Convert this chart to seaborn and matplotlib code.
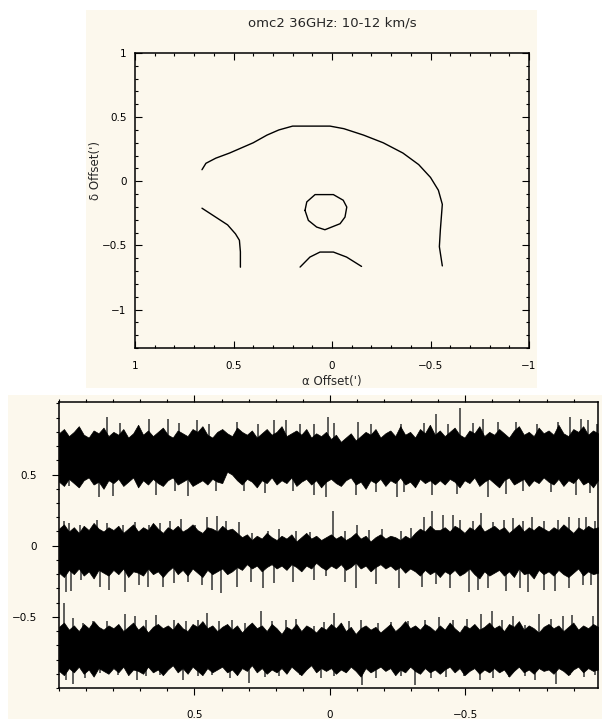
import numpy as np
import matplotlib
matplotlib.use("Agg")
import matplotlib.pyplot as plt
from matplotlib.patches import Rectangle
from matplotlib.ticker import MultipleLocator, FixedLocator
import seaborn as sns

sns.set_style("ticks")
plt.rcParams["font.family"] = ["DejaVu Sans"]

CREAM = "#fcf8ed"
INK = "black"

title = "omc2 36GHz: 10-12 km/s"
xlabel_map = "α Offset(')"
ylabel_map = "δ Offset(')"

# ---- integrated-intensity contour paths (RA, Dec offsets in arcmin) ----
outer_ra = [0.66, 0.64, 0.59, 0.52, 0.46, 0.40, 0.33, 0.27, 0.20, 0.10, 0.01,
            -0.06, -0.16, -0.26, -0.36, -0.44, -0.50, -0.54, -0.56, -0.55,
            -0.545, -0.56]
outer_dec = [0.09, 0.14, 0.18, 0.22, 0.26, 0.30, 0.36, 0.40, 0.43, 0.43, 0.43,
             0.41, 0.36, 0.30, 0.22, 0.13, 0.03, -0.07, -0.18, -0.38,
             -0.51, -0.66]

west_ra = [0.66, 0.60, 0.53, 0.49, 0.47, 0.465, 0.465]
west_dec = [-0.21, -0.27, -0.34, -0.41, -0.46, -0.55, -0.67]

core_ra = [0.137, 0.128, 0.086, -0.007, -0.057, -0.075, -0.066, -0.041,
           0.036, 0.078, 0.120, 0.137]
core_dec = [-0.227, -0.161, -0.104, -0.104, -0.148, -0.201, -0.279, -0.331,
            -0.378, -0.357, -0.305, -0.227]

south_ra = [0.162, 0.112, 0.061, -0.007, -0.074, -0.150]
south_dec = [-0.669, -0.591, -0.552, -0.552, -0.591, -0.664]

# ---- spectra: dense noise envelopes on a regular offset grid ----
channels = np.linspace(1.0, -0.99, 110)

top_hi = [0.79, 0.82, 0.77, 0.80, 0.84, 0.78, 0.76, 0.81, 0.79, 0.83, 0.77,
          0.80, 0.78, 0.82, 0.76, 0.79, 0.85, 0.78, 0.81, 0.77, 0.80, 0.83,
          0.78, 0.76, 0.81, 0.79, 0.77, 0.82, 0.80, 0.84, 0.78, 0.76, 0.80,
          0.82, 0.79, 0.77, 0.83, 0.80, 0.78, 0.81, 0.76, 0.79, 0.82, 0.78,
          0.80, 0.84, 0.77, 0.79, 0.81, 0.78, 0.82, 0.76, 0.79, 0.77, 0.80,
          0.75, 0.78, 0.73, 0.76, 0.79, 0.74, 0.77, 0.80, 0.78, 0.82, 0.76,
          0.79, 0.81, 0.77, 0.84, 0.78, 0.80, 0.76, 0.82, 0.79, 0.85, 0.78,
          0.81, 0.77, 0.80, 0.83, 0.78, 0.76, 0.81, 0.79, 0.84, 0.77, 0.80,
          0.78, 0.82, 0.79, 0.76, 0.81, 0.84, 0.78, 0.80, 0.77, 0.83, 0.79,
          0.81, 0.78, 0.85, 0.79, 0.77, 0.82, 0.80, 0.84, 0.78, 0.81, 0.79]
top_lo = [0.45, 0.42, 0.47, 0.44, 0.41, 0.46, 0.48, 0.43, 0.45, 0.40, 0.46,
          0.44, 0.47, 0.42, 0.45, 0.48, 0.41, 0.46, 0.43, 0.47, 0.44, 0.42,
          0.46, 0.48, 0.43, 0.45, 0.47, 0.42, 0.44, 0.46, 0.43, 0.47, 0.45,
          0.44, 0.52, 0.50, 0.46, 0.43, 0.47, 0.45, 0.41, 0.46, 0.44, 0.48,
          0.43, 0.46, 0.44, 0.48, 0.42, 0.45, 0.47, 0.43, 0.46, 0.41, 0.45,
          0.47, 0.44, 0.42, 0.46, 0.48, 0.43, 0.45, 0.40, 0.46, 0.44, 0.47,
          0.42, 0.46, 0.44, 0.48, 0.43, 0.45, 0.41, 0.47, 0.44, 0.46, 0.43,
          0.46, 0.43, 0.47, 0.45, 0.41, 0.46, 0.44, 0.48, 0.42, 0.45, 0.47,
          0.44, 0.41, 0.46, 0.48, 0.43, 0.45, 0.47, 0.42, 0.46, 0.44, 0.48,
          0.45, 0.43, 0.47, 0.42, 0.46, 0.44, 0.48, 0.43, 0.45, 0.41, 0.46]

mid_hi = [0.12, 0.15, 0.10, 0.13, 0.09, 0.14, 0.11, 0.16, 0.12, 0.10, 0.13,
          0.11, 0.14, 0.09, 0.12, 0.15, 0.10, 0.13, 0.11, 0.16, 0.12, 0.09,
          0.13, 0.11, 0.14, 0.10, 0.12, 0.15, 0.11, 0.09, 0.13, 0.12, 0.10,
          0.14, 0.11, 0.12, 0.09, 0.06, 0.08, 0.04, 0.07, 0.05, 0.09, 0.06,
          0.04, 0.07, 0.05, 0.08, 0.03, 0.06, 0.09, 0.05, 0.07, 0.04, 0.06,
          0.08, 0.05, 0.07, 0.04, 0.06, 0.09, 0.05, 0.07, 0.03, 0.06, 0.08,
          0.05, 0.07, 0.06, 0.04, 0.07, 0.05, 0.09, 0.12, 0.10, 0.14, 0.11,
          0.11, 0.13, 0.10, 0.14, 0.12, 0.09, 0.13, 0.11, 0.15, 0.10, 0.12,
          0.14, 0.11, 0.13, 0.09, 0.12, 0.15, 0.10, 0.13, 0.11, 0.14, 0.12,
          0.10, 0.13, 0.11, 0.15, 0.12, 0.09, 0.13, 0.11, 0.14, 0.12, 0.13]
mid_lo = [-0.19, -0.22, -0.17, -0.20, -0.16, -0.21, -0.18, -0.23, -0.17, -0.19, -0.21,
          -0.17, -0.20, -0.16, -0.22, -0.18, -0.19, -0.21, -0.16, -0.20, -0.18, -0.22,
          -0.18, -0.15, -0.20, -0.17, -0.21, -0.16, -0.19, -0.22, -0.17, -0.20, -0.18,
          -0.16, -0.20, -0.18, -0.15, -0.17, -0.13, -0.16, -0.14, -0.18, -0.15, -0.13,
          -0.16, -0.14, -0.17, -0.13, -0.15, -0.18, -0.14, -0.16, -0.12, -0.15, -0.17,
          -0.14, -0.16, -0.13, -0.17, -0.15, -0.12, -0.16, -0.14, -0.18, -0.15, -0.13,
          -0.16, -0.14, -0.17, -0.15, -0.19, -0.16, -0.18, -0.21, -0.17, -0.20, -0.18,
          -0.22, -0.18, -0.20, -0.17, -0.21, -0.19, -0.16, -0.20, -0.23, -0.18, -0.21,
          -0.19, -0.17, -0.21, -0.18, -0.22, -0.16, -0.20, -0.19, -0.23, -0.17, -0.20,
          -0.18, -0.21, -0.17, -0.20, -0.22, -0.19, -0.16, -0.21, -0.18, -0.20, -0.19]

bot_hi = [-0.57, -0.54, -0.59, -0.56, -0.60, -0.55, -0.58, -0.53, -0.57, -0.59, -0.56,
          -0.58, -0.55, -0.60, -0.57, -0.54, -0.59, -0.56, -0.61, -0.57, -0.55, -0.58,
          -0.56, -0.59, -0.54, -0.58, -0.60, -0.55, -0.57, -0.53, -0.58, -0.56, -0.60,
          -0.57, -0.55, -0.59, -0.56, -0.61, -0.57, -0.54, -0.58, -0.56, -0.60, -0.55,
          -0.58, -0.62, -0.57, -0.59, -0.55, -0.60, -0.56, -0.58, -0.61, -0.57, -0.59,
          -0.55, -0.58, -0.54, -0.60, -0.57, -0.62, -0.58, -0.56, -0.59, -0.57, -0.61,
          -0.58, -0.55, -0.60, -0.57, -0.53, -0.58, -0.56, -0.59, -0.55, -0.57, -0.60,
          -0.56, -0.59, -0.54, -0.58, -0.61, -0.56, -0.58, -0.55, -0.59, -0.57, -0.54,
          -0.58, -0.56, -0.60, -0.55, -0.57, -0.53, -0.59, -0.56, -0.58, -0.61, -0.57,
          -0.55, -0.58, -0.56, -0.60, -0.57, -0.54, -0.59, -0.56, -0.58, -0.55, -0.57]
bot_lo = [-0.88, -0.91, -0.86, -0.89, -0.85, -0.90, -0.87, -0.92, -0.86, -0.88, -0.90,
          -0.86, -0.89, -0.85, -0.91, -0.87, -0.88, -0.90, -0.85, -0.89, -0.87, -0.91,
          -0.87, -0.84, -0.89, -0.86, -0.90, -0.85, -0.88, -0.91, -0.86, -0.89, -0.87,
          -0.85, -0.89, -0.87, -0.91, -0.86, -0.88, -0.84, -0.89, -0.86, -0.90, -0.87,
          -0.89, -0.86, -0.90, -0.85, -0.88, -0.91, -0.87, -0.84, -0.89, -0.86, -0.88,
          -0.86, -0.90, -0.87, -0.89, -0.85, -0.88, -0.92, -0.86, -0.89, -0.87, -0.85,
          -0.88, -0.86, -0.91, -0.87, -0.89, -0.85, -0.88, -0.90, -0.86, -0.89, -0.87,
          -0.90, -0.87, -0.85, -0.89, -0.86, -0.91, -0.88, -0.86, -0.90, -0.87, -0.89,
          -0.86, -0.89, -0.87, -0.92, -0.88, -0.85, -0.89, -0.87, -0.90, -0.86, -0.88,
          -0.87, -0.90, -0.86, -0.88, -0.91, -0.87, -0.85, -0.89, -0.86, -0.88, -0.87]

# ---- spectra: individual noise spikes beyond the envelopes ----
top_up_x = [0.821, 0.776, 0.666, 0.599, 0.557, 0.492, 0.447, 0.344, 0.266, 0.205,
            0.163, 0.112, 0.060, 0.008, -0.017, -0.105, -0.153, -0.262, -0.346,
            -0.391, -0.436, -0.482, -0.527, -0.566, -0.621, -0.688, -0.765,
            -0.843, -0.888, -0.927, -0.952, -0.985]
top_up_y = [0.904, 0.864, 0.894, 0.894, 0.864, 0.880, 0.857, 0.871, 0.857, 0.887,
            0.880, 0.857, 0.852, 0.904, 0.864, 0.871, 0.852, 0.852, 0.864, 0.923,
            0.852, 0.970, 0.864, 0.894, 0.871, 0.871, 0.857, 0.871, 0.904, 0.894,
            0.887, 0.852]
top_dn_x = [0.963, 0.854, 0.802, 0.641, 0.570, 0.525, 0.421, 0.318, 0.241, 0.137,
            0.060, 0.015, -0.095, -0.172, -0.247, -0.275, -0.378, -0.469, -0.585,
            -0.649, -0.714, -0.817, -0.907, -0.959]
top_dn_y = [0.417, 0.340, 0.347, 0.354, 0.382, 0.347, 0.387, 0.387, 0.370, 0.387,
            0.359, 0.340, 0.354, 0.377, 0.340, 0.377, 0.354, 0.363, 0.340, 0.363,
            0.387, 0.377, 0.354, 0.370]

mid_up_x = [0.983, 0.963, 0.924, 0.860, 0.821, 0.763, 0.718, 0.666, 0.628, 0.589,
            0.550, 0.499, 0.454, 0.415, 0.383, 0.337, 0.286, 0.228, 0.189, 0.125,
            0.073, -0.011, -0.056, -0.101, -0.146, -0.191, -0.262, -0.301, -0.346,
            -0.378, -0.417, -0.456, -0.482, -0.527, -0.559, -0.604, -0.643, -0.675,
            -0.714, -0.746, -0.791, -0.843, -0.882, -0.920, -0.946, -0.978]
mid_up_y = [0.176, 0.160, 0.148, 0.183, 0.160, 0.148, 0.167, 0.148, 0.160, 0.176,
            0.190, 0.143, 0.200, 0.207, 0.176, 0.167, 0.089, 0.101, 0.120, 0.106,
            0.096, 0.242, 0.106, 0.143, 0.113, 0.120, 0.101, 0.125, 0.200, 0.242,
            0.214, 0.219, 0.183, 0.172, 0.230, 0.167, 0.183, 0.195, 0.172, 0.200,
            0.176, 0.183, 0.200, 0.195, 0.200, 0.176]
mid_dn_x = [0.976, 0.957, 0.918, 0.847, 0.815, 0.757, 0.705, 0.673, 0.615, 0.576,
            0.525, 0.473, 0.434, 0.402, 0.344, 0.292, 0.247, 0.208, 0.137, 0.060,
            0.015, -0.056, -0.095, -0.172, -0.256, -0.340, -0.391, -0.443, -0.514,
            -0.546, -0.585, -0.649, -0.701, -0.733, -0.791, -0.830, -0.882, -0.933,
            -0.966]
mid_dn_y = [-0.322, -0.317, -0.240, -0.287, -0.310, -0.322, -0.275, -0.287, -0.287,
            -0.263, -0.252, -0.275, -0.310, -0.334, -0.287, -0.256, -0.294, -0.263,
            -0.252, -0.240, -0.216, -0.252, -0.294, -0.270, -0.299, -0.287, -0.270,
            -0.299, -0.327, -0.310, -0.294, -0.317, -0.294, -0.327, -0.310, -0.317,
            -0.299, -0.275, -0.275]

bot_up_x = [0.983, 0.950, 0.912, 0.873, 0.821, 0.757, 0.718, 0.679, 0.641, 0.576,
            0.531, 0.486, 0.454, 0.408, 0.363, 0.312, 0.254, 0.215, 0.163, 0.125,
            0.060, 0.021, -0.017, -0.069, -0.114, -0.178, -0.224, -0.288, -0.353,
            -0.404, -0.456, -0.507, -0.559, -0.598, -0.636, -0.675, -0.720, -0.772,
            -0.817, -0.862, -0.895, -0.972]
bot_up_y = [-0.401, -0.507, -0.542, -0.531, -0.531, -0.479, -0.495, -0.519, -0.484,
            -0.519, -0.531, -0.519, -0.472, -0.531, -0.519, -0.542, -0.460, -0.531,
            -0.519, -0.512, -0.566, -0.535, -0.472, -0.531, -0.519, -0.542, -0.535,
            -0.531, -0.519, -0.502, -0.519, -0.512, -0.479, -0.460, -0.519, -0.495,
            -0.554, -0.479, -0.512, -0.495, -0.484, -0.495]
bot_dn_x = [0.976, 0.950, 0.905, 0.847, 0.783, 0.712, 0.679, 0.628, 0.544, 0.486,
            0.434, 0.370, 0.299, 0.241, 0.189, 0.112, 0.034, -0.017, -0.120, -0.172,
            -0.262, -0.314, -0.372, -0.430, -0.494, -0.553, -0.604, -0.662, -0.720,
            -0.759, -0.836, -0.888, -0.940, -0.978]
bot_dn_y = [-0.942, -0.972, -0.930, -0.895, -0.911, -0.942, -0.918, -0.907, -0.942,
            -0.918, -0.907, -0.930, -0.965, -0.925, -0.918, -0.907, -0.930, -0.918,
            -0.982, -0.930, -0.918, -0.977, -0.930, -0.925, -0.918, -0.942, -0.930,
            -0.925, -0.918, -0.942, -0.972, -0.907, -0.925, -0.907]

spectra = [
    (top_hi, top_lo, top_up_x, top_up_y, top_dn_x, top_dn_y),
    (mid_hi, mid_lo, mid_up_x, mid_up_y, mid_dn_x, mid_dn_y),
    (bot_hi, bot_lo, bot_up_x, bot_up_y, bot_dn_x, bot_dn_y),
]

# ---------------------------------------------------------------------------
fig = plt.figure(figsize=(6.02, 7.19), dpi=100, facecolor="white")

# cream panels behind each plot
for rect in [(86 / 602, 1 - 388 / 719, 451 / 602, 378 / 719),
             (8 / 602, 0.0, 594 / 602, 324 / 719)]:
    fig.patches.append(Rectangle(rect[:2], rect[2], rect[3],
                                 transform=fig.transFigure, facecolor=CREAM,
                                 edgecolor="none", zorder=-10))

FS = 7.5
FS_LABEL = 8.5
FS_TITLE = 9.5

# ---- contour map ----
ax1 = fig.add_axes([135 / 602, 1 - 348 / 719, 394 / 602, 295 / 719])
ax1.set_zorder(1)
ax1.set_facecolor(CREAM)
for rx, dy in [(outer_ra, outer_dec), (west_ra, west_dec),
               (core_ra, core_dec), (south_ra, south_dec)]:
    sns.lineplot(x=rx, y=dy, sort=False, estimator=None, color=INK,
                 linewidth=1.0, ax=ax1)
ax1.set_xlim(1, -1)
ax1.set_ylim(-1.3, 1)
ax1.xaxis.set_major_locator(FixedLocator([1, 0.5, 0, -0.5, -1]))
ax1.yaxis.set_major_locator(FixedLocator([1, 0.5, 0, -0.5, -1]))
ax1.xaxis.set_minor_locator(MultipleLocator(0.1))
ax1.yaxis.set_minor_locator(MultipleLocator(0.1))
ax1.set_xticklabels(["1", "0.5", "0", "\u22120.5", "\u22121"])
ax1.set_yticklabels(["1", "0.5", "0", "\u22120.5", "\u22121"])
ax1.tick_params(which="both", direction="in", top=True, right=True,
                width=0.8, colors=INK, labelsize=FS)
ax1.tick_params(which="major", length=5)
ax1.tick_params(axis="x", which="major", pad=9.5)
ax1.tick_params(axis="y", which="major", pad=6)
ax1.tick_params(which="minor", length=2.2)
for s in ax1.spines.values():
    s.set_linewidth(1.1)
    s.set_color(INK)
ax1.set_xlabel(xlabel_map, fontsize=FS_LABEL, labelpad=3)
ax1.set_ylabel(ylabel_map, fontsize=FS_LABEL)
ax1.yaxis.set_label_coords(-0.084, 0.6)
ax1.set_title(title, fontsize=FS_TITLE, pad=19)

# ---- stacked spectra ----
ax2 = fig.add_axes([59 / 602, 1 - 688 / 719, 539 / 602, 286 / 719])
ax2.set_zorder(1)
ax2.set_facecolor(CREAM)
for hi, lo, ux, uy, dx, dy in spectra:
    hi = np.asarray(hi)
    lo = np.asarray(lo)
    mid = 0.5 * (hi.mean() + lo.mean())
    ax2.vlines(ux, mid, uy, color="#333333", linewidth=1.1, zorder=2)
    ax2.vlines(dx, dy, mid, color="#333333", linewidth=1.1, zorder=2)
    ax2.fill_between(channels, lo, hi, color=INK, linewidth=0.5,
                     edgecolor=INK, zorder=3)
ax2.set_xlim(1.0, -0.99)
ax2.set_ylim(-1.0, 1.01)
ax2.xaxis.set_major_locator(FixedLocator([0.5, 0, -0.5]))
ax2.yaxis.set_major_locator(FixedLocator([0.5, 0, -0.5]))
ax2.xaxis.set_minor_locator(MultipleLocator(0.1))
ax2.yaxis.set_minor_locator(MultipleLocator(0.1))
ax2.set_xticklabels(["0.5", "0", "\u22120.5"])
ax2.set_yticklabels(["0.5", "0", "\u22120.5"])
ax2.tick_params(which="both", direction="out", top=True, right=False,
                width=0.8, colors=INK, labelsize=FS)
ax2.tick_params(which="major", length=5, pad=11)
ax2.tick_params(which="minor", length=2)
ax2.tick_params(axis="x", which="major", labeltop=False)
for s in ax2.spines.values():
    s.set_linewidth(1.1)
    s.set_color(INK)

fig.savefig("out.png", dpi=100, facecolor="white")
